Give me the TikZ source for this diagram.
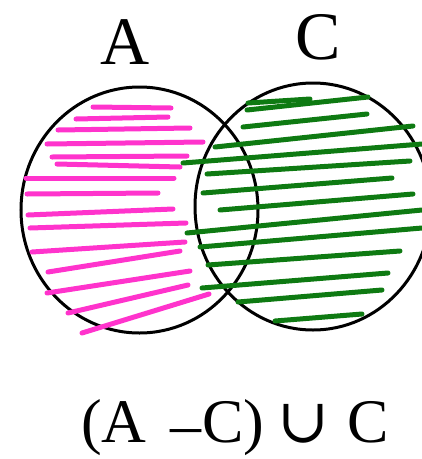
\documentclass[tikz,border=0pt]{standalone}
\usepackage{fontspec}
\setmainfont{Liberation Serif}
\newfontfamily\unionfont{DejaVu Serif}
\usetikzlibrary{positioning}

\definecolor{pink_color}{HTML}{FF33CC}
\definecolor{green_color}{HTML}{0E7A12}

\begin{document}
\begin{tikzpicture}[
    x=1pt, y=-1pt,
    setline/.style={
        draw=black,
        line width=3pt
    },
    hatch/.style={
        draw=#1,
        line width=5pt,
        line cap=round
    },
    setlabel/.style={
        font=\fontsize{68}{70}\selectfont,
        inner sep=0pt,
        anchor=base
    }
]

% Frame
\clip (0,0) rectangle (422,459);

% Sets
\draw[setline] (139.5,210) ellipse [x radius=118.5, y radius=123];
\draw[setline] (313,206.5) ellipse [x radius=118, y radius=123.5];

% Hatching of A
\foreach \xa/\ya/\xb/\yb in {93/107/171/108, 76/119/168/117, 58/130/190/128,
    47/144/203/142, 52/157/187/156, 57/164/180/167, 26/178/174/178,
    27/194/158/193, 28/215/173/209, 30/228/186/223, 32/252/185/242,
    48/272/180/251, 47/293/190/271, 68/313/188/285, 82/333/209/294}
    \draw[hatch=pink_color] (\xa,\ya) -- (\xb,\yb);

% Hatching of C
\foreach \xa/\ya/\xb/\yb in {248/103/310/99, 247/110/368/97, 243/127/367/114,
    215/147/413/126, 183/163/422/144, 207/174/410/161, 203/193/392/178,
    220/210/413/194, 187/233/422/210, 200/247/422/228, 208/265/400/251,
    202/288/388/273, 238/302/382/290, 275/321/362/314}
    \draw[hatch=green_color] (\xa,\ya) -- (\xb,\yb);

% Labels
\node[setlabel] (labelA) at (125,64) {A};
\node[setlabel] (labelC) at (318,59) {C};
\node[setlabel, anchor=base west, font=\fontsize{62}{64}\selectfont] (expr) at (81,442)
    {(A\hspace{24pt}\raisebox{-3pt}{–}\hspace{1pt}C)\hspace{13pt}{\unionfont ∪}\hspace{18pt}C};

\end{tikzpicture}
\end{document}
